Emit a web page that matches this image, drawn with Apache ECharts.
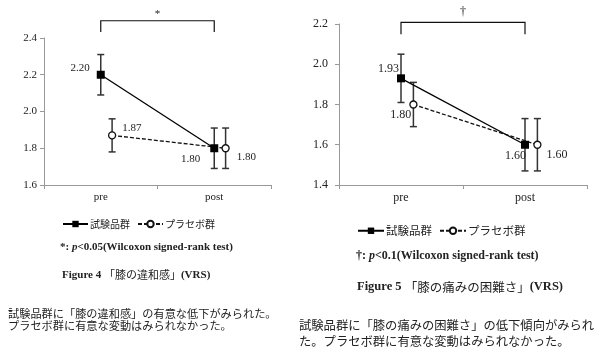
<!DOCTYPE html>
<html>
<head>
<meta charset="utf-8">
<script src="https://cdn.jsdelivr.net/npm/echarts@6/dist/echarts.min.js"></script>
<style>html,body{margin:0;padding:0;background:#fff}#c{width:600px;height:361px}</style>
</head>
<body>
<div id="c"></div>
<script>
// ---- data ----
const categories = ['pre', 'post'];
const seriesNames = ['試験品群', 'プラセボ群'];
// Figure 4
const fig4Test = [2.20, 1.80];
const fig4TestErr = [0.11, 0.11];
const fig4Placebo = [1.87, 1.80];
const fig4PlaceboErr = [0.09, 0.11];
const fig4YMin = 1.6, fig4YMax = 2.4, fig4YStep = 0.2;
// Figure 5
const fig5Test = [1.93, 1.60];
const fig5TestErr = [0.12, 0.13];
const fig5Placebo = [1.80, 1.60];
const fig5PlaceboErr = [0.11, 0.13];
const fig5YMin = 1.4, fig5YMax = 2.2, fig5YStep = 0.2;
// texts
const fig4Sig = '*';
const fig5Sig = '†';
const fig4Note = ['*: ', 'p', '<0.05(Wilcoxon signed-rank test)'];
const fig5Note = ['†: ', 'p', '<0.1(Wilcoxon signed-rank test)'];
const fig4Title = ['Figure 4 ', '「膝の違和感」', '(VRS)'];
const fig5Title = ['Figure 5 ', '「膝の痛みの困難さ」', '(VRS)'];
const fig4Text = ['試験品群に「膝の違和感」の有意な低下がみられた。', 'プラセボ群に有意な変動はみられなかった。'];
const fig5Text = ['試験品群に「膝の痛みの困難さ」の低下傾向がみられ', 'た。プラセボ群に有意な変動はみられなかった。'];

// ---- styling / layout ----
const SERIF = '"Liberation Serif","Times New Roman",serif';
const JP = '"Noto Sans CJK JP",sans-serif';
const TXT = '#222';
const PLACEBO_SHIFT = 0.1;

const charts = [
  {test: fig4Test, testErr: fig4TestErr, pl: fig4Placebo, plErr: fig4PlaceboErr,
   ymin: fig4YMin, ymax: fig4YMax, ystep: fig4YStep, sig: fig4Sig,
   grid: {left: 44, top: 38, width: 227, height: 147}, fs: 11, labelMargin: 7,
   bracket: [2.433, 2.494, 2.53],
   testLbl: [{position: 'left', offset: [-2, -7]}, {position: 'left', offset: [-5, 11]}],
   plLbl: [{position: 'right', offset: [1, -7]}, {position: 'right', offset: [2, 9]}]},
  {test: fig5Test, testErr: fig5TestErr, pl: fig5Placebo, plErr: fig5PlaceboErr,
   ymin: fig5YMin, ymax: fig5YMax, ystep: fig5YStep, sig: fig5Sig,
   grid: {left: 339, top: 24, width: 248, height: 161}, fs: 12, labelMargin: 11,
   bracket: [2.149, 2.208, 2.262],
   testLbl: [{position: 'left', offset: [7, -9]}, {position: 'left', offset: [10, 11]}],
   plLbl: [{position: 'left', offset: [7, 10]}, {position: 'right', offset: [0, 10]}]}
];

const grid = [], xAxis = [], yAxis = [], series = [];
charts.forEach((c, k) => {
  grid.push(Object.assign({containLabel: false}, c.grid));
  xAxis.push({
    type: 'category', gridIndex: k, data: categories, boundaryGap: true,
    axisLine: {lineStyle: {color: '#999', width: 1}},
    axisTick: {show: true, length: 4, lineStyle: {color: '#999'}},
    axisLabel: {fontFamily: SERIF, fontSize: c.fs, color: TXT, margin: 7}
  });
  xAxis.push({type: 'value', gridIndex: k, min: 0, max: 2, show: false});
  yAxis.push({
    type: 'value', gridIndex: k, min: c.ymin, max: c.ymax, interval: c.ystep,
    axisLine: {show: true, lineStyle: {color: '#999', width: 1}},
    axisTick: {show: true, length: 4, lineStyle: {color: '#999'}},
    splitLine: {show: false},
    axisLabel: {fontFamily: SERIF, fontSize: c.fs, color: TXT, margin: c.labelMargin,
      formatter: v => v.toFixed(1)}
  });
  const xi = 2 * k + 1, yi = k;
  const mkData = (vals, shift, lbls) => vals.map((v, i) => ({
    value: [i + 0.5 + shift, v],
    label: Object.assign({show: true, formatter: p => p.value[1].toFixed(2),
      fontFamily: SERIF, fontSize: c.fs, color: TXT}, lbls[i])
  }));
  const errData = (vals, errs, shift) => vals.map((v, i) => [i + 0.5 + shift, v - errs[i], v + errs[i]]);
  const errSeries = (vals, errs, shift) => ({
    type: 'custom', xAxisIndex: xi, yAxisIndex: yi, z: 1, silent: true,
    data: errData(vals, errs, shift),
    renderItem: (params, api) => {
      const x = api.value(0);
      const lo = api.coord([x, api.value(1)]);
      const hi = api.coord([x, api.value(2)]);
      const w = 3.5, st = {stroke: '#333', lineWidth: 1.5};
      return {type: 'group', children: [
        {type: 'line', shape: {x1: lo[0], y1: lo[1], x2: hi[0], y2: hi[1]}, style: st},
        {type: 'line', shape: {x1: lo[0] - w, y1: lo[1], x2: lo[0] + w, y2: lo[1]}, style: st},
        {type: 'line', shape: {x1: hi[0] - w, y1: hi[1], x2: hi[0] + w, y2: hi[1]}, style: st}
      ]};
    }
  });
  series.push(errSeries(c.test, c.testErr, 0));
  series.push(errSeries(c.pl, c.plErr, PLACEBO_SHIFT));
  series.push({
    name: seriesNames[1], type: 'line', xAxisIndex: xi, yAxisIndex: yi, z: 3,
    data: mkData(c.pl, PLACEBO_SHIFT, c.plLbl),
    symbol: 'circle', symbolSize: 7,
    itemStyle: {color: '#fff', borderColor: '#111', borderWidth: 1.3},
    lineStyle: {color: '#111', width: 1.3, type: [4, 2]}
  });
  series.push({
    name: seriesNames[0], type: 'line', xAxisIndex: xi, yAxisIndex: yi, z: 4,
    data: mkData(c.test, 0, c.testLbl),
    symbol: 'rect', symbolSize: 8,
    itemStyle: {color: '#000', borderColor: '#000', borderWidth: 0},
    lineStyle: {color: '#000', width: 1.3, type: 'solid'}
  });
  series.push({
    type: 'custom', xAxisIndex: xi, yAxisIndex: yi, clip: false, silent: true, z: 2,
    data: [[0.5, 1.5, c.bracket[0], c.bracket[1], c.bracket[2]]],
    renderItem: (params, api) => {
      const a = api.coord([api.value(0), api.value(2)]);
      const b = api.coord([api.value(0), api.value(3)]);
      const cc = api.coord([api.value(1), api.value(3)]);
      const d = api.coord([api.value(1), api.value(2)]);
      const t = api.coord([(api.value(0) + api.value(1)) / 2, api.value(4)]);
      return {type: 'group', children: [
        {type: 'polyline', shape: {points: [a, b, cc, d]}, style: {stroke: '#111', lineWidth: 1.2, fill: null}},
        {type: 'text', x: t[0], y: t[1], style: {text: c.sig, fontFamily: SERIF, fontSize: c.fs, fill: TXT, align: 'center', verticalAlign: 'middle'}}
      ]};
    }
  });
});

const legends = [
  {left: 62, top: 219, fs: 10, gap: 7, w: 25},
  {left: 357, top: 225, fs: 11.5, gap: 7, w: 26}
].map(l => ({
  left: l.left, top: l.top, orient: 'horizontal', padding: 0, itemWidth: l.w, itemHeight: 8, itemGap: l.gap,
  data: seriesNames, selectedMode: false,
  textStyle: {fontFamily: JP, fontSize: l.fs, color: TXT, padding: [0, 0, 0, -3]}
}));

function noteText(parts, x, y, fs) {
  return {type: 'text', left: x, top: y - fs * 0.6, style: {
    text: parts[0] + '{i|' + parts[1] + '}' + parts[2],
    font: 'bold ' + fs + 'px ' + SERIF, fill: TXT,
    rich: {i: {fontStyle: 'italic', fontWeight: 'bold', fontFamily: SERIF, fontSize: fs, fill: TXT}}
  }};
}
function titleText(parts, x, y, fs) {
  return {type: 'text', left: x, top: y - fs * 0.6, style: {
    text: '{a|' + parts[0] + '}{j|' + parts[1] + '}{a|' + parts[2] + '}',
    rich: {
      a: {fontWeight: 'bold', fontFamily: SERIF, fontSize: fs, fill: TXT},
      j: {fontWeight: 'normal', fontFamily: JP, fontSize: fs, fill: TXT}
    }
  }};
}
function plain(text, x, y, fs, family) {
  return {type: 'text', left: x, top: y - fs * 0.6, style: {
    text: text, font: 'normal ' + fs + 'px ' + family, fill: TXT}};
}

const graphic = [
  noteText(fig4Note, 60, 248, 11),
  noteText(fig5Note, 356, 257, 12),
  titleText(fig4Title, 62, 276, 11),
  titleText(fig5Title, 357, 288, 12.5),
  plain(fig4Text[0], 8, 315, 11.2, JP),
  plain(fig4Text[1], 8, 327, 11.2, JP),
  plain(fig5Text[0], 299, 327, 12.3, JP),
  plain(fig5Text[1], 299, 343, 12.3, JP)
];

const chart = echarts.init(document.getElementById('c'), null, {renderer: 'canvas'});
chart.setOption({
  animation: false,
  backgroundColor: '#fff',
  grid, xAxis, yAxis, series, legend: legends, graphic
});
</script>
</body>
</html>
